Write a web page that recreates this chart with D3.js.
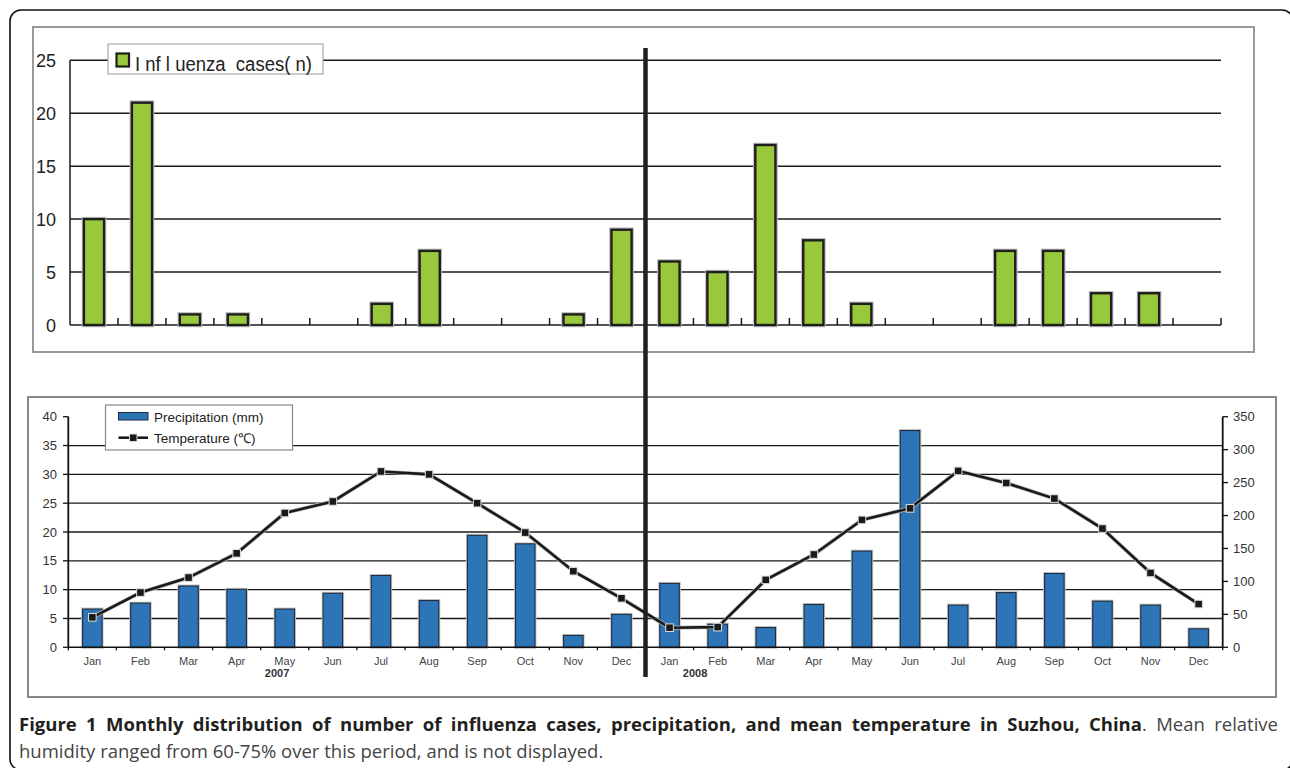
<!DOCTYPE html>
<html>
<head>
<meta charset="utf-8">
<script src="https://cdn.jsdelivr.net/npm/d3@7"></script>
<style>
  body { margin: 0; background: #fff; }
  #wrap { position: relative; width: 1290px; height: 768px; overflow: hidden; }
  svg { position: absolute; left: 0; top: 0; }
</style>
</head>
<body>
<div id="wrap">
  <svg id="chart" width="1290" height="768"></svg>
</div>
<script>
// Data
const months = ["Jan", "Feb", "Mar", "Apr", "May", "Jun", "Jul", "Aug", "Sep", "Oct", "Nov", "Dec"];
const years = ["2007", "2008"];
const influenzaCases = [10, 21, 1, 1, 0, 0, 2, 7, 0, 0, 1, 9, 6, 5, 17, 8, 2, 0, 0, 7, 7, 3, 3, 0];
const precipitation = [58, 67, 93, 88, 58, 82, 109, 71, 170, 157, 18, 50, 97, 35, 30, 65, 146, 329, 64, 83, 112, 70, 64, 28];
const temperature = [5.2, 9.5, 12.1, 16.3, 23.3, 25.3, 30.5, 30.0, 25.0, 19.9, 13.2, 8.5, 3.4, 3.5, 11.7, 16.1, 22.1, 24.1, 30.6, 28.5, 25.8, 20.6, 12.9, 7.5];
const casesTicks = [0, 5, 10, 15, 20, 25];
const tempTicks = [0, 5, 10, 15, 20, 25, 30, 35, 40];
const precipTicks = [0, 50, 100, 150, 200, 250, 300, 350];

const captionBold = "Figure 1 Monthly distribution of number of influenza cases, precipitation, and mean temperature in Suzhou, China";
const captionLine1 = ". Mean relative";
const captionLine2 = "humidity ranged from 60-75% over this period, and is not displayed.";

const categories = years.flatMap(y => months.map(m => ({ month: m, year: y })));
const idx = d3.range(categories.length);

const svg = d3.select("#chart");
const font = "'Liberation Sans', Arial, sans-serif";

// outer rounded frame
svg.append("rect").attr("x", 10).attr("y", 10).attr("width", 1283).attr("height", 760)
  .attr("rx", 11).attr("fill", "none").attr("stroke", "#111").attr("stroke-width", 1.6);

// ---------- top chart: influenza cases ----------
svg.append("rect").attr("x", 33).attr("y", 27).attr("width", 1221).attr("height", 325)
  .attr("fill", "#fff").attr("stroke", "#999").attr("stroke-width", 2);

const xTop = d3.scaleBand().domain(idx).range([70, 1221]).paddingInner(0.58).paddingOuter(0.29);
const xTopLin = d3.scaleLinear().domain([0, 24]).range([70, 1221]);
const yTop = d3.scaleLinear().domain([0, 25]).range([325, 60.3]);

const gTop = svg.append("g");
gTop.selectAll(".grid").data(casesTicks.slice(1)).join("line")
  .attr("x1", 70).attr("x2", 1221).attr("y1", d => yTop(d)).attr("y2", d => yTop(d))
  .attr("stroke", "#1a1a1a").attr("stroke-width", 1.5);
gTop.append("line").attr("x1", 70).attr("x2", 70).attr("y1", yTop(25)).attr("y2", yTop(0))
  .attr("stroke", "#1a1a1a").attr("stroke-width", 1.5);
gTop.append("line").attr("x1", 70).attr("x2", 1221).attr("y1", yTop(0)).attr("y2", yTop(0))
  .attr("stroke", "#1a1a1a").attr("stroke-width", 1.5);
gTop.selectAll(".tick").data(d3.range(1, 25)).join("line")
  .attr("x1", d => xTopLin(d)).attr("x2", d => xTopLin(d))
  .attr("y1", yTop(0)).attr("y2", yTop(0) - 7)
  .attr("stroke", "#1a1a1a").attr("stroke-width", 1.5);
gTop.selectAll(".ylab").data(casesTicks).join("text")
  .attr("x", 56).attr("y", d => yTop(d) + 7)
  .attr("text-anchor", "end").attr("font-family", font).attr("font-size", 18).attr("fill", "#222")
  .text(d => d);

const casesData = idx.filter(i => influenzaCases[i] > 0);
gTop.selectAll(".halo").data(casesData).join("rect")
  .attr("x", i => xTop(i)).attr("y", i => yTop(influenzaCases[i]))
  .attr("width", xTop.bandwidth()).attr("height", i => yTop(0) - yTop(influenzaCases[i]))
  .attr("fill", "none").attr("stroke", "#bbb").attr("stroke-width", 4.5);
gTop.selectAll(".bar").data(casesData).join("rect")
  .attr("x", i => xTop(i)).attr("y", i => yTop(influenzaCases[i]))
  .attr("width", xTop.bandwidth()).attr("height", i => yTop(0) - yTop(influenzaCases[i]))
  .attr("fill", "#99c83c").attr("stroke", "#1e1e1e").attr("stroke-width", 2.4);

// legend
const lgTop = svg.append("g");
lgTop.append("rect").attr("x", 108).attr("y", 44).attr("width", 215).attr("height", 30)
  .attr("fill", "#fff").attr("stroke", "#aaa").attr("stroke-width", 1.2);
lgTop.append("rect").attr("x", 116.5).attr("y", 53.5).attr("width", 12.5).attr("height", 13)
  .attr("fill", "#99c83c").attr("stroke", "#1e1e1e").attr("stroke-width", 2.2);
lgTop.append("text").attr("x", 135).attr("y", 71).attr("font-family", font).attr("font-size", 19.5)
  .attr("fill", "#222").attr("textLength", 177).attr("lengthAdjust", "spacingAndGlyphs")
  .style("white-space", "pre").text("I nf l uenza  cases( n)");

// ---------- bottom chart: precipitation & temperature ----------
svg.append("rect").attr("x", 28).attr("y", 397).attr("width", 1248).attr("height", 300)
  .attr("fill", "#fff").attr("stroke", "#888").attr("stroke-width", 2);

const xBot = d3.scaleBand().domain(idx).range([68.3, 1222.7]).paddingInner(0.595).paddingOuter(0.2975);
const xBotLin = d3.scaleLinear().domain([0, 24]).range([68.3, 1222.7]);
const yTemp = d3.scaleLinear().domain([0, 40]).range([647.3, 416.7]);
const yPrec = d3.scaleLinear().domain([0, 350]).range([647.3, 416.7]);

const gBot = svg.append("g");
gBot.selectAll(".grid").data(tempTicks.slice(1, -1)).join("line")
  .attr("x1", 68.3).attr("x2", 1222.7).attr("y1", d => yTemp(d)).attr("y2", d => yTemp(d))
  .attr("stroke", "#1a1a1a").attr("stroke-width", 1.3);

gBot.selectAll(".halo").data(idx).join("rect")
  .attr("x", i => xBot(i)).attr("y", i => yPrec(precipitation[i]))
  .attr("width", xBot.bandwidth()).attr("height", i => yPrec(0) - yPrec(precipitation[i]))
  .attr("fill", "none").attr("stroke", "#c4c4c4").attr("stroke-width", 3);
gBot.selectAll(".bar").data(idx).join("rect")
  .attr("x", i => xBot(i)).attr("y", i => yPrec(precipitation[i]))
  .attr("width", xBot.bandwidth()).attr("height", i => yPrec(0) - yPrec(precipitation[i]))
  .attr("fill", "#2e75b8").attr("stroke", "#1d2c40").attr("stroke-width", 1.1);

// axes
const axisStroke = "#111";
gBot.append("line").attr("x1", 68.3).attr("x2", 68.3).attr("y1", yTemp(40)).attr("y2", yTemp(0))
  .attr("stroke", axisStroke).attr("stroke-width", 1.8);
gBot.append("line").attr("x1", 1222.7).attr("x2", 1222.7).attr("y1", yPrec(350)).attr("y2", yPrec(0))
  .attr("stroke", axisStroke).attr("stroke-width", 1.8);
gBot.append("line").attr("x1", 68.3).attr("x2", 1222.7).attr("y1", yTemp(0)).attr("y2", yTemp(0))
  .attr("stroke", axisStroke).attr("stroke-width", 1.6);
gBot.selectAll(".lt").data(tempTicks).join("line")
  .attr("x1", 63).attr("x2", 68.3).attr("y1", d => yTemp(d)).attr("y2", d => yTemp(d))
  .attr("stroke", axisStroke).attr("stroke-width", 1.3);
gBot.selectAll(".rt").data(precipTicks).join("line")
  .attr("x1", 1222.7).attr("x2", 1228).attr("y1", d => yPrec(d)).attr("y2", d => yPrec(d))
  .attr("stroke", axisStroke).attr("stroke-width", 1.3);
gBot.selectAll(".bt").data(d3.range(0, 25)).join("line")
  .attr("x1", d => xBotLin(d)).attr("x2", d => xBotLin(d))
  .attr("y1", yTemp(0)).attr("y2", yTemp(0) + 3)
  .attr("stroke", axisStroke).attr("stroke-width", 1.3);
gBot.selectAll(".ll").data(tempTicks).join("text")
  .attr("x", 57).attr("y", d => yTemp(d) + 4.5)
  .attr("text-anchor", "end").attr("font-family", font).attr("font-size", 13).attr("fill", "#333")
  .text(d => d);
gBot.selectAll(".rl").data(precipTicks).join("text")
  .attr("x", 1233).attr("y", d => yPrec(d) + 4.5)
  .attr("font-family", font).attr("font-size", 13).attr("fill", "#333")
  .text(d => d);
gBot.selectAll(".ml").data(idx).join("text")
  .attr("x", i => xBot(i) + xBot.bandwidth() / 2).attr("y", 664.5)
  .attr("text-anchor", "middle").attr("font-family", font).attr("font-size", 11).attr("fill", "#444")
  .text(i => categories[i].month);
const yearPos = [4.34, 13.03];
gBot.selectAll(".yl").data(years).join("text")
  .attr("x", (d, i) => xBotLin(yearPos[i])).attr("y", 676.5)
  .attr("text-anchor", "middle").attr("font-family", font).attr("font-size", 11)
  .attr("font-weight", "bold").attr("fill", "#333")
  .text(d => d);

// temperature line
const line = d3.line().x(i => xBot(i) + xBot.bandwidth() / 2).y(i => yTemp(temperature[i]));
gBot.append("path").datum(idx).attr("d", line).attr("fill", "none")
  .attr("stroke", "#bbb").attr("stroke-width", 4);
gBot.append("path").datum(idx).attr("d", line).attr("fill", "none")
  .attr("stroke", "#1a1a1a").attr("stroke-width", 2.6);
gBot.selectAll(".mk").data(idx).join("rect")
  .attr("x", i => xBot(i) + xBot.bandwidth() / 2 - 3.8).attr("y", i => yTemp(temperature[i]) - 3.8)
  .attr("width", 7.6).attr("height", 7.6)
  .attr("fill", "#1a1a1a").attr("stroke", "#ddd").attr("stroke-width", 1);

// legend
const lgBot = svg.append("g");
lgBot.append("rect").attr("x", 105.5).attr("y", 405).attr("width", 187).attr("height", 45)
  .attr("fill", "#fff").attr("stroke", "#888").attr("stroke-width", 1.2);
lgBot.append("rect").attr("x", 118.5).attr("y", 412.5).attr("width", 29.5).attr("height", 7.5)
  .attr("fill", "#2e75b8").attr("stroke", "#1d2c40").attr("stroke-width", 1);
lgBot.append("line").attr("x1", 118.5).attr("x2", 148).attr("y1", 437.7).attr("y2", 437.7)
  .attr("stroke", "#1a1a1a").attr("stroke-width", 2.6);
lgBot.append("rect").attr("x", 129.5).attr("y", 434).attr("width", 7.5).attr("height", 7.5)
  .attr("fill", "#1a1a1a").attr("stroke", "#ddd").attr("stroke-width", 1);
lgBot.append("text").attr("x", 154).attr("y", 421.5).attr("font-family", font).attr("font-size", 13.5)
  .attr("fill", "#222").text("Precipitation (mm)");
lgBot.append("text").attr("x", 154).attr("y", 443).attr("font-family", font).attr("font-size", 13.5)
  .attr("fill", "#222").text("Temperature (℃)");

// year divider
svg.append("line").attr("x1", xTopLin(12)).attr("x2", xTopLin(12)).attr("y1", 48).attr("y2", 677)
  .attr("stroke", "#231f20").attr("stroke-width", 4.5);

// caption, first line justified to the frame width
const capFont = "'Open Sans', sans-serif";
const cap1 = svg.append("text").attr("x", 19).attr("y", 730.5)
  .attr("font-family", capFont).attr("font-size", 18.5);
cap1.append("tspan").attr("font-weight", "bold").attr("fill", "#231f20").text(captionBold);
cap1.append("tspan").attr("fill", "#444").text(captionLine1);
const natural = cap1.node().getComputedTextLength();
const spaces = (captionBold + captionLine1).split(" ").length - 1;
cap1.attr("word-spacing", Math.max(0, (1259 - natural) / spaces));
svg.append("text").attr("x", 19).attr("y", 757.5)
  .attr("font-family", capFont).attr("font-size", 18.5).attr("fill", "#444")
  .text(captionLine2);
</script>
</body>
</html>
